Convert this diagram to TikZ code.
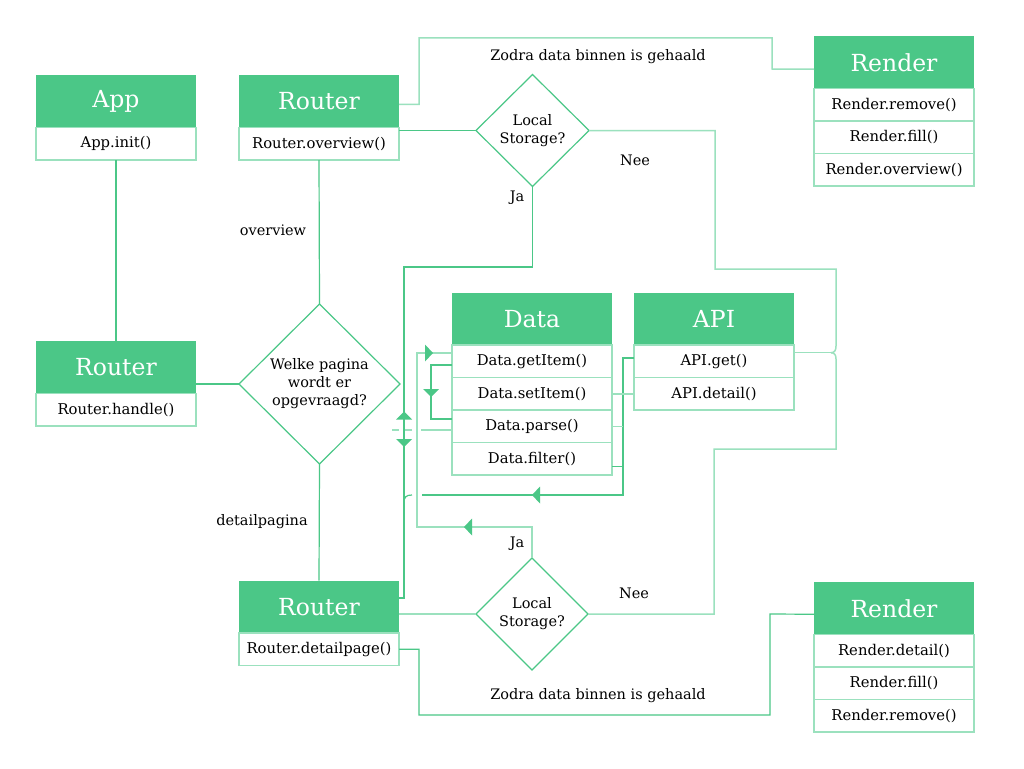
\documentclass[tikz,border=0pt]{standalone}
\usepackage{fontspec}
\setmainfont{DejaVu Serif}
\usetikzlibrary{shapes.geometric}
\definecolor{G}{RGB}{75,199,135}
\definecolor{L}{RGB}{155,225,190}
\begin{document}
\begin{tikzpicture}[x=1pt,y=-1pt,
  hdr/.style={fill=G, text=white, minimum width=160pt, minimum height=52.5pt, anchor=north west, inner sep=0pt, outer sep=0pt, font=\fontsize{23.5}{28}\selectfont},
  row/.style={draw=L, line width=1.5pt, fill=white, minimum width=160pt, minimum height=32.5pt, anchor=north west, inner sep=0pt, outer sep=0pt, font=\fontsize{14.8}{17}\selectfont},
  dec/.style={diamond, draw=G, line width=1.2pt, fill=white, inner sep=0pt, outer sep=0pt, align=center, font=\fontsize{14.5}{18}\selectfont},
  lnk/.style={draw=G, line width=1.2pt},
  lnkl/.style={draw=L, line width=1.5pt},
  lbl/.style={font=\fontsize{14.5}{17}\selectfont, inner sep=0pt},
  tri/.style={fill=G}
]
\fill[white] (0,0) rectangle (1024,768);
\useasboundingbox (0,0) rectangle (1024,768);

% App
\node[hdr] (appH) at (36,75) {App};
\node[row] (appB) at (36,127.5) {App.init()};
% Router top
\node[hdr] (rtH) at (239,75) {Router};
\node[row] (rtB) at (239,127.5) {Router.overview()};
% Router left
\node[hdr] (rlH) at (36,341) {Router};
\node[row] (rlB) at (36,393.5) {Router.handle()};
% Router bottom
\node[hdr] (rbH) at (239,580.5) {Router};
\node[row] (rbB) at (239,633) {Router.detailpage()};
% Render top
\node[hdr] (rnH) at (814,36) {Render};
\node[row] (rnA) at (814,88.5) {Render.remove()};
\node[row] (rnB) at (814,121) {Render.fill()};
\node[row] (rnC) at (814,153.5) {Render.overview()};
% Render bottom
\node[hdr] (rmH) at (814,582) {Render};
\node[row] (rmA) at (814,634.5) {Render.detail()};
\node[row] (rmB) at (814,667) {Render.fill()};
\node[row] (rmC) at (814,699.5) {Render.remove()};
% Data
\node[hdr] (dataH) at (452,292.5) {Data};
\node[row] (dataGet) at (452,345) {Data.getItem()};
\node[row] (dataSet) at (452,377.5) {Data.setItem()};
\node[row] (dataParse) at (452,410) {Data.parse()};
\node[row] (dataFilter) at (452,442.5) {Data.filter()};
% API
\node[hdr] (apiH) at (634,292.5) {API};
\node[row] (apiGet) at (634,345) {API.get()};
\node[row] (apiDetail) at (634,377.5) {API.detail()};
% Decisions
\node[dec, minimum width=161pt, minimum height=160pt] (d1) at (319.5,384) {Welke pagina\\wordt er\\opgevraagd?};
\node[dec, minimum width=113pt, minimum height=112pt] (d2) at (532.5,130.5) {Local\\Storage?};
\node[dec, minimum width=112pt, minimum height=112pt] (d3) at (532,614) {Local\\Storage?};

% Labels
\node[lbl] (lov) at (273,230) {overview};
\node[lbl] (ldp) at (262,522) {detailpagina};
\node[lbl] (lz1) at (598,57) {Zodra data binnen is gehaald};
\node[lbl] (lz2) at (598,696) {Zodra data binnen is gehaald};
\node[lbl] (lnee1) at (635,160) {Nee};
\node[lbl] (lja1) at (517,198) {Ja};
\node[lbl] (lja2) at (517,544) {Ja};
\node[lbl] (lnee2) at (634,593) {Nee};

\coordinate (J) at (831,352.7);

% Connectors
\draw[lnk] (appB.south) -- (rlH.north);
\draw[lnk] (rtB.south) -- (d1.north);
\draw[lnk] (d1.west -| rlH.east) -- (d1.west);
\draw[lnk] (d1.south) -- (rbH.north);
\draw[lnkl] ([yshift=-3pt]rtH.east) -| (419,38) -| (772,69) -- ([yshift=-7pt]rnH.west);
\draw[lnk] (d2.west -| rtB.east) -- (d2.west);
\draw[lnkl] (d2.east) -| (715,269) -| (836,346) .. controls (836,350.5) and (834.5,352.7) .. (J);
\draw[lnkl] ([yshift=-7.7pt]apiGet.north east) -- (J);
\draw[lnkl] (d3.east) -| (714,449) -| (836,359) .. controls (836,355) and (834.5,352.7) .. (J);
\draw[lnk] (d2.south) |- (404,267) -- (404,598) -- ([yshift=-17.5pt]rbH.north east);
\draw[lnkl] (d3.north) |- (417,527) |- ([yshift=-8pt]dataGet.north west);
\draw[lnk] ([yshift=-20pt]dataGet.north west) -| (431,419) -- ([yshift=-9pt]dataParse.north west);
\draw[lnkl] ([yshift=-20pt]dataParse.north west) -- (421,430);
\draw[lnkl, dash pattern=on 7pt off 6pt] (412,430) -- (390,430);
\draw[lnk] ([yshift=-13pt]apiGet.north west) -| (623,495) -- (421.7,495);
\draw[lnk] (412,495) .. controls (406,495) and (404,497) .. (404,503);
\draw[lnkl] (dataSet.east) -- (apiDetail.west);
\draw[lnkl] (dataParse.east) -- ++(11,0);
\draw[lnk] ([yshift=-8pt]dataFilter.east) -- ++(11,0);
\draw[lnkl] (d3.west -| rbH.east) -- (d3.west);
\draw[lnk] (rbB.east) -| (419,715) -| (770,614) -- ([yshift=-6pt]rmH.west);

% Arrowheads
\fill[tri] (404,411.5) -- (396,419.5) -- (412,419.5) -- cycle;
\fill[tri] (404,447) -- (396,439) -- (412,439) -- cycle;
\fill[tri] (433,353) -- (425,344.5) -- (425,361.5) -- cycle;
\fill[tri] (431,397) -- (423,389) -- (439,389) -- cycle;
\fill[tri] (532,495) -- (540,486.5) -- (540,503.5) -- cycle;
\fill[tri] (464,527) -- (472,518.5) -- (472,535.5) -- cycle;
\end{tikzpicture}
\end{document}
